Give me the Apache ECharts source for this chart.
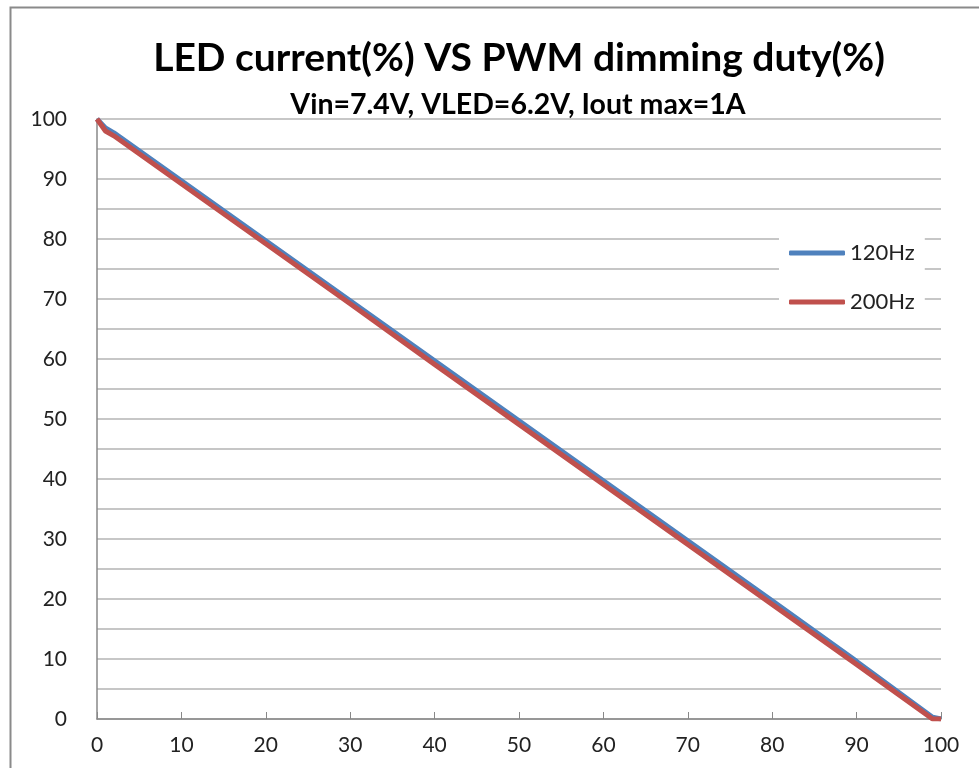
<!DOCTYPE html>
<html>
<head>
<meta charset="utf-8">
<script src="https://cdn.jsdelivr.net/npm/echarts@6/dist/echarts.min.js"></script>
<style>
html,body{margin:0;padding:0;background:#fff;}
#chart{width:979px;height:768px;}
</style>
</head>
<body>
<div id="chart"></div>
<script>
// ---- data ----
var titleText = 'LED current(%) VS PWM dimming duty(%)';
var subtitleText = 'Vin=7.4V, VLED=6.2V, Iout max=1A';
var seriesNames = ['120Hz', '200Hz'];
var duty = [0, 1, 2, 10, 20, 30, 40, 50, 60, 70, 80, 90, 99, 100];
var current120 = [100, 98.5, 97.7, 89.7, 79.7, 69.7, 59.7, 49.7, 39.7, 29.7, 19.7, 9.6, 0.3, 0];
var current200 = [100, 98.0, 97.2, 89.2, 79.2, 69.2, 59.1, 49.1, 39.1, 29.1, 19.1, 9.1, 0, 0];

function pairs(xs, ys) { return xs.map(function (x, i) { return [x, ys[i]]; }); }

var chart = echarts.init(document.getElementById('chart'), null, { renderer: 'canvas' });
var font = 'Lato';
chart.setOption({
  animation: false,
  backgroundColor: '#ffffff',
  graphic: [{
    type: 'rect', left: 8, top: 5, silent: true, z: -10,
    shape: { width: 1100, height: 900 },
    style: { fill: 'none', stroke: '#8a8a8a', lineWidth: 2 }
  }],
  title: [{
    text: titleText, left: 514, top: 34, textAlign: 'center',
    textStyle: { fontFamily: font, fontWeight: 'bold', fontSize: 39, color: '#000' }
  }, {
    text: subtitleText, left: 513, top: 85, textAlign: 'center',
    textStyle: { fontFamily: font, fontWeight: 'bold', fontSize: 28.5, color: '#000' }
  }],
  legend: {
    data: seriesNames,
    orient: 'vertical',
    left: 779, top: 229,
    padding: [13, 10, 13, 10],
    backgroundColor: '#ffffff',
    itemGap: 27,
    itemWidth: 56, itemHeight: 5,
    itemTextGap: 6,
    icon: 'roundRect',
    textStyle: { fontFamily: font, fontSize: 22, color: '#222' }
  },
  grid: { left: 97, right: 38, top: 119, bottom: 49, containLabel: false },
  xAxis: {
    type: 'value', min: 0, max: 100, interval: 10,
    axisLine: { show: true, lineStyle: { color: '#888', width: 1.5 } },
    axisTick: { show: true, inside: true, length: 7, lineStyle: { color: '#888' } },
    axisLabel: { margin: 16, fontFamily: font, fontSize: 21, color: '#222' },
    splitLine: { show: false }
  },
  yAxis: {
    type: 'value', min: 0, max: 100, interval: 10,
    axisLine: { show: true, lineStyle: { color: '#888', width: 1.5 } },
    axisTick: { show: false },
    axisLabel: { margin: 30, fontFamily: font, fontSize: 21, color: '#222' },
    splitLine: { show: true, lineStyle: { color: '#b4b4b4', width: 1.5 } },
    minorTick: { show: false, splitNumber: 2 },
    minorSplitLine: { show: true, lineStyle: { color: '#b4b4b4', width: 1.5 } }
  },
  series: [{
    name: seriesNames[0], type: 'line', data: pairs(duty, current120),
    showSymbol: false, symbol: 'none', smooth: false,
    lineStyle: { color: '#4f81bd', width: 5 }, itemStyle: { color: '#4f81bd' }
  }, {
    name: seriesNames[1], type: 'line', data: pairs(duty, current200),
    showSymbol: false, symbol: 'none', smooth: false,
    lineStyle: { color: '#c0504d', width: 5 }, itemStyle: { color: '#c0504d' }
  }]
});
</script>
</body>
</html>
